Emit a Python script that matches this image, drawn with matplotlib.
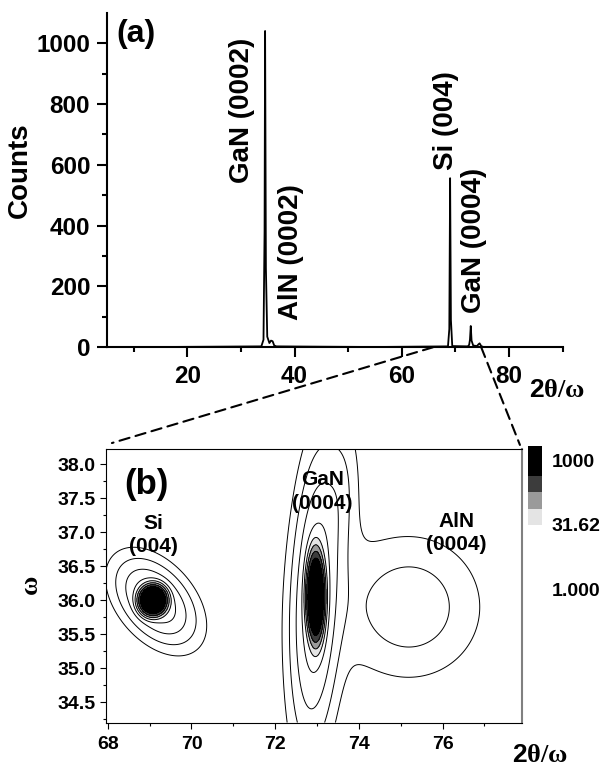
import numpy as np
import matplotlib
matplotlib.use('Agg')
import matplotlib.pyplot as plt
from matplotlib.patches import ConnectionPatch
from matplotlib.ticker import MultipleLocator, FixedLocator, NullLocator

plt.rcParams['font.family'] = ['Liberation Sans', 'DejaVu Sans']
plt.rcParams['font.weight'] = 'bold'
plt.rcParams['axes.labelweight'] = 'bold'
plt.rcParams['mathtext.fontset'] = 'custom'
plt.rcParams['mathtext.rm'] = 'Liberation Serif'
plt.rcParams['mathtext.it'] = 'Liberation Serif'
plt.rcParams['mathtext.bf'] = 'Liberation Sans:bold'

# (a) 2theta/omega scan
scan_tth = [5.0, 15.0, 25.0, 33.8, 34.2, 34.4, 34.5, 34.65, 34.9, 35.3, 35.6, 35.9, 36.2, 36.6,
            45.0, 55.0, 68.6, 68.85, 69.0, 69.15, 69.4, 72.3, 72.55, 72.7, 72.85, 73.0, 73.3,
            74.0, 74.3, 74.5, 74.8, 75.2]
scan_counts = [1, 1, 2, 3, 25, 380, 1040, 260, 35, 14, 22, 20, 6, 3,
               2, 1, 3, 60, 556, 90, 4, 3, 8, 25, 70, 22, 6,
               4, 10, 13, 4, 1]

# (b) reciprocal space map, modelled as a few peak components
comp_name = ['Si core', 'Si streak', 'GaN core', 'GaN tail', 'GaN diffuse', 'AlN (0004)']
comp_tth = [69.08, 69.15, 72.97, 72.97, 73.45, 75.2]
comp_omega = [36.0, 35.98, 36.05, 36.0, 37.4, 35.9]
comp_amp = [8000, 30, 5000, 30, 3, 4]
comp_wx = [0.12, 0.36, 0.081, 0.21, 0.25, 0.9]
comp_wy = [0.08, 0.19, 0.25, 0.75, 0.6, 0.55]
comp_angle = [0, -23, 0, -4, -10, 0]
comp_power = [50, 3, 50, 3, 3, 3]

contour_levels = [1.0, 2.37, 5.62, 13.3, 31.62, 75.0, 178.0, 422.0]
fill_levels = [31.62, 75.0, 178.0, 422.0, 1e5]
fill_colors = ['#e4e4e4', '#9a9a9a', '#3c3c3c', '#000000']

fig = plt.figure(figsize=(6.06, 7.67), dpi=100)

# ---- panel (a)
ax1 = fig.add_axes([0.1764, 0.5472, 0.7522, 0.4362])
ax1.plot(scan_tth, scan_counts, color='black', lw=1.3)
ax1.set_xlim(5, 90)
ax1.set_ylim(0, 1100)
ax1.spines['top'].set_visible(False)
ax1.spines['right'].set_visible(False)
for s in ['left', 'bottom']:
    ax1.spines[s].set_linewidth(1.5)
ax1.set_xticks([20, 40, 60, 80])
ax1.xaxis.set_minor_locator(FixedLocator([10, 30, 50, 70, 90]))
ax1.set_yticks([0, 200, 400, 600, 800, 1000])
ax1.yaxis.set_minor_locator(FixedLocator([100, 300, 500, 700, 900]))
ax1.tick_params(which='major', length=7, width=1.5, labelsize=17.5)
ax1.tick_params(which='minor', length=3.6, width=1.5)
ax1.tick_params(axis='y', pad=5)
ax1.tick_params(axis='x', pad=6)
ax1.set_ylabel('Counts', fontsize=20)
ax1.yaxis.set_label_coords(-0.162, 0.53)
ax1.text(0.987, -0.128, r'$\mathbf{2}\theta/\omega$', transform=ax1.transAxes,
         fontsize=19, ha='center', va='center')
ax1.text(10.4, 1030, '(a)', fontsize=23, ha='center', va='center')
ax1.text(30.1, 540, 'GaN (0002)', rotation=90, fontsize=20, ha='center', va='bottom')
ax1.text(39.3, 90, 'AlN (0002)', rotation=90, fontsize=20, ha='center', va='bottom')
ax1.text(68.2, 583, 'Si (004)', rotation=90, fontsize=20, ha='center', va='bottom')
ax1.text(73.5, 113, 'GaN (0004)', rotation=90, fontsize=20, ha='center', va='bottom')

# ---- panel (b)
ax2 = fig.add_axes([0.1744, 0.058, 0.687, 0.3562])
gx, gy = np.meshgrid(np.linspace(67.95, 77.9, 500), np.linspace(34.2, 38.22, 500))
field = np.zeros_like(gx)
for cx, cy, a, wx, wy, ang, p in zip(comp_tth, comp_omega, comp_amp, comp_wx, comp_wy,
                                     comp_angle, comp_power):
    t = np.radians(ang)
    dx, dy = gx - cx, gy - cy
    u = np.cos(t) * dx + np.sin(t) * dy
    v = -np.sin(t) * dx + np.cos(t) * dy
    field += a * (1 + ((u / wx) ** 2 + (v / wy) ** 2) / (2 * p)) ** (-p)

ax2.contourf(gx, gy, field, levels=fill_levels, colors=fill_colors)
ax2.contour(gx, gy, field, levels=contour_levels, colors='black', linewidths=0.7)
ax2.set_xlim(67.95, 77.9)
ax2.set_ylim(34.2, 38.22)
for s in ax2.spines.values():
    s.set_linewidth(0.8)
ax2.spines['right'].set_color('#808080')
ax2.spines['right'].set_linewidth(1.5)
ax2.set_xticks([68, 70, 72, 74, 76])
ax2.xaxis.set_minor_locator(FixedLocator([69, 71, 73, 75, 77]))
ax2.set_yticks([34.5, 35.0, 35.5, 36.0, 36.5, 37.0, 37.5, 38.0])
ax2.set_yticklabels(['34.5', '35.0', '35.5', '36.0', '36.5', '37.0', '37.5', '38.0'])
ax2.yaxis.set_minor_locator(MultipleLocator(0.25))
ax2.tick_params(which='major', length=4.5, width=0.8, labelsize=14)
ax2.tick_params(which='minor', length=2.5, width=0.8)
ax2.tick_params(axis='y', pad=3)
ax2.tick_params(axis='x', pad=5)
ax2.set_ylabel(r'$\omega$', fontsize=19)
ax2.yaxis.set_label_coords(-0.15, 0.5)
ax2.text(1.043, -0.119, r'$\mathbf{2}\theta/\omega$', transform=ax2.transAxes,
         fontsize=19, ha='center', va='center')
ax2.text(68.93, 37.70, '(b)', fontsize=25, ha='center', va='center')
ax2.text(69.09, 36.96, 'Si\n(004)', fontsize=15, ha='center', va='center', linespacing=1.3)
ax2.text(73.13, 37.60, 'GaN\n(0004)', fontsize=15, ha='center', va='center', linespacing=1.3)
ax2.text(76.33, 36.99, 'AlN\n(0004)', fontsize=15, ha='center', va='center', linespacing=1.3)

# ---- colour scale
cax = fig.add_axes([0.8713, 0.2308, 0.0231, 0.1881])
cax.set_yscale('log')
cax.set_ylim(1, 2140)
cax.set_xlim(0, 1)
for lo, hi, c in zip(fill_levels[:-1], fill_levels[1:], fill_colors):
    cax.axhspan(lo, min(hi, 2140), color=c, lw=0)
for s in cax.spines.values():
    s.set_visible(False)
cax.set_xticks([])
cax.yaxis.tick_right()
cax.set_yticks([1000, 31.62, 1])
cax.set_yticklabels(['1000', '31.62', '1.000'])
cax.yaxis.set_minor_locator(NullLocator())
cax.tick_params(axis='y', length=0, pad=7, labelsize=14)

# ---- zoom guides
for xa, xb in [((65.8, 0), (0.015, 1.023)), ((74.8, 0), (0.995, 1.016))]:
    con = ConnectionPatch(xyA=xa, coordsA=ax1.transData, xyB=xb, coordsB=ax2.transAxes,
                          color='black', lw=1.5, linestyle=(0, (5, 3)))
    fig.add_artist(con)

fig.savefig('out.png', dpi=100)
